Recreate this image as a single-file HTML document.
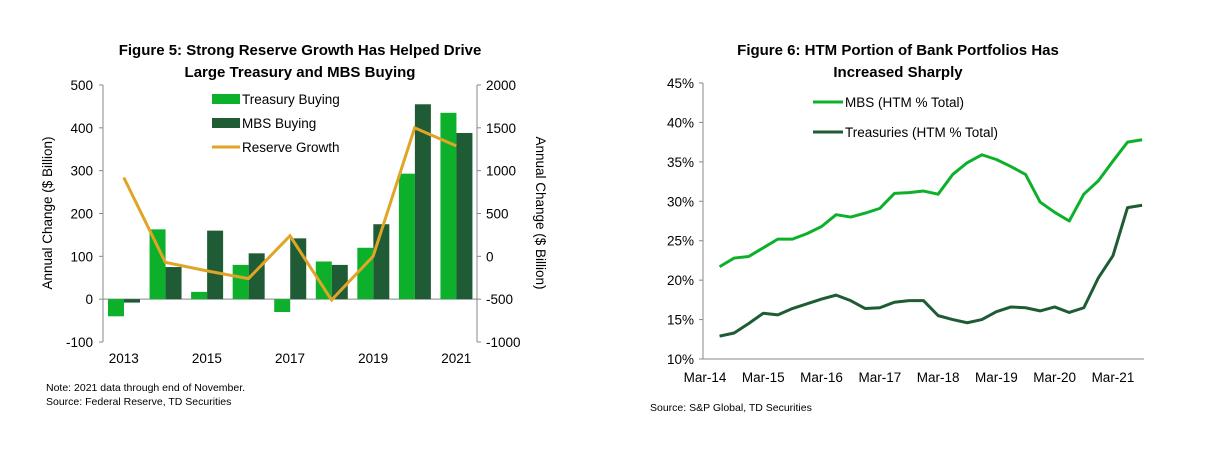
<!DOCTYPE html>
<html><head><meta charset="utf-8"><style>
body{margin:0;background:#fff;font-family:"Liberation Sans",Arial,sans-serif;}
svg text{font-family:"Liberation Sans",Arial,sans-serif;}
</style></head><body>
<svg id="s" width="1207" height="444" xmlns="http://www.w3.org/2000/svg">
<rect width="1207" height="444" fill="#fff"/>
<g font-weight="bold" font-size="15" text-anchor="middle" fill="#000">
<text x="300" y="55">Figure 5: Strong Reserve Growth Has Helped Drive</text>
<text x="300" y="77">Large Treasury and MBS Buying</text>
<text x="898" y="55">Figure 6: HTM Portion of Bank Portfolios Has</text>
<text x="898" y="77">Increased Sharply</text>
</g>
<text x="46" y="391" font-size="10.5">Note: 2021 data through end of November.</text>
<text x="46" y="405" font-size="10.5">Source: Federal Reserve, TD Securities</text>
<text x="650" y="411" font-size="10.5">Source: S&amp;P Global, TD Securities</text>
<g id="L"></g>
<g id="R"></g>
</svg>
<script>
const years=["2013","2014","2015","2016","2017","2018","2019","2020","2021"];
const treasury=[-40,163,17,80,-30,88,120,293,435];
const mbs=[-8,75,160,107,142,80,175,455,388];
const reserve=[920,-70,-170,-260,240,-510,0,1500,1290];
const leftTicks=[500,400,300,200,100,0,-100];
const rightTicks=[2000,1500,1000,500,0,-500,-1000];
const dates=["Mar-14","Mar-15","Mar-16","Mar-17","Mar-18","Mar-19","Mar-20","Mar-21"];
const mbsHtm=[21.7,22.8,23.0,24.1,25.2,25.2,25.9,26.8,28.3,28.0,28.5,29.1,31.0,31.1,31.3,30.9,33.4,34.9,35.9,35.3,34.4,33.4,29.9,28.6,27.5,30.9,32.6,35.1,37.5,37.8];
const tsyHtm=[12.9,13.3,14.5,15.8,15.6,16.4,17.0,17.6,18.1,17.4,16.4,16.5,17.2,17.4,17.4,15.5,15.0,14.6,15.0,16.0,16.6,16.5,16.1,16.6,15.9,16.5,20.3,23.1,29.2,29.5];
const pctTicks=[45,40,35,30,25,20,15,10];

const NS="http://www.w3.org/2000/svg";
function mk(p,t,a,txt){const e=document.createElementNS(NS,t);for(const k in a)e.setAttribute(k,a[k]);if(txt!==undefined)e.textContent=txt;p.appendChild(e);return e;}
const LG="#0db02b",DG="#1f5c35",GOLD="#e0a526",AX="#888";

const L=document.getElementById('L');
const x0=103,x1=477,yT=85,yB=342;
const yL=v=>yT+(500-v)/600*(yB-yT);
const yR=v=>yT+(2000-v)/3000*(yB-yT);
const gw=(x1-x0)/years.length;
const gx=i=>x0+gw*i;
let e;
e=mk(L,'line',{x1:x0,y1:yT,x2:x0,y2:yB,stroke:AX});

e=mk(L,'line',{x1:x1,y1:yT,x2:x1,y2:yB,stroke:AX});

e=mk(L,'line',{x1:x0,y1:yL(0),x2:x1,y2:yL(0),stroke:AX});

leftTicks.forEach(v=>{mk(L,'line',{x1:x0-4,y1:yL(v),x2:x0,y2:yL(v),stroke:AX});
 e=mk(L,'text',{x:x0-10,y:yL(v)+5,'font-size':13.5,'text-anchor':'end'},v);
 });
rightTicks.forEach(v=>{mk(L,'line',{x1:x1,y1:yR(v),x2:x1+4,y2:yR(v),stroke:AX});
 e=mk(L,'text',{x:x1+9,y:yR(v)+5,'font-size':13.5},v);
 });
years.forEach((y,i)=>{
 const bx=gx(i)+5;
 e=mk(L,'rect',{x:bx,y:Math.min(yL(treasury[i]),yL(0)),width:16,height:Math.abs(yL(treasury[i])-yL(0)),fill:LG});
 
 e=mk(L,'rect',{x:bx+16,y:Math.min(yL(mbs[i]),yL(0)),width:16,height:Math.abs(yL(mbs[i])-yL(0)),fill:DG});
 
 if(i%2==0){e=mk(L,'text',{x:gx(i)+gw/2,y:363,'font-size':13.5,'text-anchor':'middle'},y);
 }
});
e=mk(L,'polyline',{points:reserve.map((v,i)=>(gx(i)+gw/2)+','+yR(v)).join(' '),fill:'none',stroke:GOLD,'stroke-width':3});

e=mk(L,'text',{x:52,y:yT+128,'font-size':13.5,'text-anchor':'middle',transform:'rotate(-90 52 '+(yT+128)+')'},'Annual Change ($ Billion)');

e=mk(L,'text',{x:536,y:yT+128,'font-size':13.5,'text-anchor':'middle',transform:'rotate(90 536 '+(yT+128)+')'},'Annual Change ($ Billion)');

[["Treasury Buying",LG,'bar'],["MBS Buying",DG,'bar'],["Reserve Growth",GOLD,'line']].forEach((d,i)=>{
 const yy=99+i*24;
 if(d[2]=='bar')e=mk(L,'rect',{x:212,y:yy-5,width:28,height:10,fill:d[1]});
 else e=mk(L,'line',{x1:212,y1:yy,x2:240,y2:yy,stroke:d[1],'stroke-width':3});
 
 e=mk(L,'text',{x:242,y:yy+5,'font-size':13.5},d[0]);
 
});

const R=document.getElementById('R');
const rx0=703,rx1=1144,ryT=83,ryB=359,m0=705,qw=14.57;
const py=v=>ryT+(45-v)/35*(ryB-ryT);
const qx=q=>m0+q*qw;
e=mk(R,'line',{x1:rx0,y1:ryT,x2:rx0,y2:ryB,stroke:AX});

e=mk(R,'line',{x1:rx0,y1:ryB,x2:rx1,y2:ryB,stroke:AX});

pctTicks.forEach(v=>{mk(R,'line',{x1:rx0-4,y1:py(v),x2:rx0,y2:py(v),stroke:AX});
 e=mk(R,'text',{x:rx0-9,y:py(v)+5,'font-size':13.5,'text-anchor':'end'},v+'%');
 });
dates.forEach((d,i)=>{e=mk(R,'text',{x:qx(i*4),y:382,'font-size':13.5,'text-anchor':'middle'},d);
 });
e=mk(R,'polyline',{points:mbsHtm.map((v,i)=>qx(i+1)+','+py(v)).join(' '),fill:'none',stroke:LG,'stroke-width':3,'stroke-linejoin':'round'});

e=mk(R,'polyline',{points:tsyHtm.map((v,i)=>qx(i+1)+','+py(v)).join(' '),fill:'none',stroke:DG,'stroke-width':3,'stroke-linejoin':'round'});

[["MBS (HTM % Total)",LG],["Treasuries (HTM % Total)",DG]].forEach((d,i)=>{
 const yy=102+i*30;
 e=mk(R,'line',{x1:813,y1:yy,x2:843,y2:yy,stroke:d[1],'stroke-width':3});
 
 e=mk(R,'text',{x:845,y:yy+5,'font-size':13.5},d[0]);
 
});
</script>
</body></html>
